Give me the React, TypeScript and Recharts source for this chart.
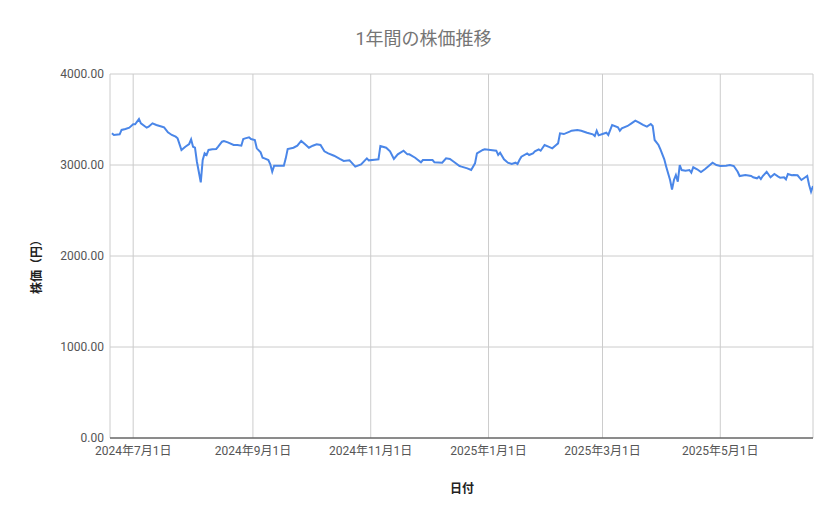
import React from 'react';
import { LineChart, Line, XAxis, YAxis, CartesianGrid } from 'recharts';

const dates = [
  '2024-06-20','2024-06-21','2024-06-24','2024-06-25','2024-06-27','2024-06-29',
  '2024-07-01','2024-07-02','2024-07-04','2024-07-05','2024-07-08','2024-07-09','2024-07-11','2024-07-13','2024-07-16','2024-07-17','2024-07-19','2024-07-21','2024-07-23','2024-07-24','2024-07-26','2024-07-28','2024-07-30','2024-07-31',
  '2024-08-01','2024-08-02','2024-08-03','2024-08-05','2024-08-06','2024-08-07','2024-08-08','2024-08-09','2024-08-11','2024-08-13','2024-08-14','2024-08-16','2024-08-17','2024-08-19','2024-08-22','2024-08-24','2024-08-26','2024-08-27','2024-08-28','2024-08-30','2024-08-31',
  '2024-09-02','2024-09-03','2024-09-05','2024-09-06','2024-09-07','2024-09-09','2024-09-10','2024-09-11','2024-09-12','2024-09-14','2024-09-17','2024-09-18','2024-09-19','2024-09-22','2024-09-24','2024-09-26','2024-09-28','2024-09-30',
  '2024-10-02','2024-10-04','2024-10-06','2024-10-08','2024-10-10','2024-10-13','2024-10-16','2024-10-18','2024-10-21','2024-10-22','2024-10-24','2024-10-27','2024-10-30','2024-10-31',
  '2024-11-03','2024-11-05','2024-11-06','2024-11-09','2024-11-11','2024-11-13','2024-11-15','2024-11-18','2024-11-20','2024-11-21','2024-11-24','2024-11-27','2024-11-28','2024-11-30',
  '2024-12-03','2024-12-04','2024-12-08','2024-12-10','2024-12-12','2024-12-14','2024-12-17','2024-12-18','2024-12-21','2024-12-23','2024-12-25','2024-12-26','2024-12-29','2024-12-30',
  '2025-01-02','2025-01-05','2025-01-06','2025-01-07','2025-01-09','2025-01-11','2025-01-13','2025-01-15','2025-01-16','2025-01-17','2025-01-18','2025-01-21','2025-01-22','2025-01-24','2025-01-25','2025-01-27','2025-01-28','2025-01-30',
  '2025-02-01','2025-02-03','2025-02-05','2025-02-06','2025-02-07','2025-02-09','2025-02-12','2025-02-13','2025-02-16','2025-02-18','2025-02-21','2025-02-24','2025-02-25','2025-02-26','2025-02-27',
  '2025-03-01','2025-03-03','2025-03-04','2025-03-06','2025-03-09','2025-03-10','2025-03-11','2025-03-14','2025-03-16','2025-03-18','2025-03-20','2025-03-22','2025-03-24','2025-03-26','2025-03-27','2025-03-28','2025-03-30','2025-03-31',
  '2025-04-02','2025-04-03','2025-04-05','2025-04-06','2025-04-07','2025-04-08','2025-04-09','2025-04-10','2025-04-11','2025-04-13','2025-04-15','2025-04-16','2025-04-17','2025-04-19','2025-04-21','2025-04-23','2025-04-25','2025-04-27','2025-04-29',
  '2025-05-01','2025-05-04','2025-05-06','2025-05-08','2025-05-10','2025-05-11','2025-05-14','2025-05-17','2025-05-18','2025-05-20','2025-05-21','2025-05-22','2025-05-23','2025-05-25','2025-05-27','2025-05-29','2025-05-31',
  '2025-06-01','2025-06-03','2025-06-04','2025-06-05','2025-06-07','2025-06-08','2025-06-10','2025-06-12','2025-06-14','2025-06-15','2025-06-16','2025-06-17','2025-06-18',
];

const prices = [
  3348,3330,3337,3385,3396,3410,3447,3447,3505,3458,
  3410,3421,3458,3440,3421,3414,3359,3330,3311,3293,
  3165,3201,3231,3282,3201,3190,3036,2810,3055,3128,
  3110,3165,3172,3176,3201,3256,3264,3249,3220,3220,
  3212,3286,3293,3304,3286,3275,3183,3139,3080,3073,
  3055,3007,2926,2993,2993,2993,3073,3176,3190,3212,
  3264,3227,3190,3212,3227,3220,3150,3128,3102,3066,
  3044,3051,3029,2982,3007,3073,3051,3058,3062,3209,
  3190,3150,3066,3117,3157,3117,3117,3080,3029,3055,
  3055,3055,3029,3025,3073,3066,3036,2989,2982,2963,
  2945,3018,3128,3165,3172,3165,3157,3110,3135,3062,
  3025,3011,3025,3011,3055,3091,3128,3110,3128,3150,
  3172,3157,3220,3201,3183,3220,3238,3348,3340,3366,
  3377,3385,3377,3355,3337,3319,3377,3326,3340,3355,
  3330,3440,3414,3377,3403,3429,3458,3487,3465,3440,
  3421,3451,3429,3275,3220,3172,3062,2982,2835,2730,
  2835,2890,2817,3000,2945,2938,2945,2916,2975,2953,
  2923,2953,2989,3025,3000,2989,2993,3000,2989,2926,
  2879,2890,2879,2865,2854,2872,2846,2879,2926,2865,
  2901,2872,2861,2865,2843,2901,2887,2890,2887,2835,
  2865,2879,2780,2707,2769,
];

const xTickDates = ['2024-07-01', '2024-09-01', '2024-11-01', '2025-01-01', '2025-03-01', '2025-05-01'];
const xDomainDates = ['2024-06-19', '2025-06-18'];
const yTicks = [0, 1000, 2000, 3000, 4000];

const title = '1年間の株価推移';
const xTitle = '日付';
const yTitle = '株価（円）';

const data = dates.map((d, i) => ({ t: Date.parse(d), price: prices[i] }));

const fmtDate = (t: number) => {
  const d = new Date(t);
  return `${d.getUTCFullYear()}年${d.getUTCMonth() + 1}月${d.getUTCDate()}日`;
};

const FONT = 'Roboto, "Noto Sans CJK JP", sans-serif';

export default function App() {
  return (
    <div style={{ position: 'relative', width: 831, height: 511, fontFamily: FONT, background: '#fff' }}>
      <div
        style={{
          position: 'absolute', left: 0, top: 16, width: 831, textAlign: 'center',
          fontSize: 18, color: '#757575', fontFamily: FONT,
        }}
      >
        {title}
      </div>
      <div
        style={{
          position: 'absolute', left: 27, top: 256, width: 0, height: 0,
        }}
      >
        <div
          style={{
            position: 'absolute', transform: 'translate(-50%, -50%) rotate(-90deg)',
            whiteSpace: 'nowrap', fontSize: 12, color: '#222', fontWeight: 'bold',
          }}
        >
          {yTitle}
        </div>
      </div>
      <div
        style={{
          position: 'absolute', left: 0, top: 471, width: 908, textAlign: 'center',
          fontSize: 12, color: '#222', fontWeight: 'bold',
        }}
      >
        {xTitle}
      </div>
      <LineChart
        width={831}
        height={511}
        data={data}
        margin={{ top: 66, right: 26, left: 0, bottom: 51 }}
      >
        <CartesianGrid stroke="#cccccc" strokeWidth={1} />
        <XAxis
          dataKey="t"
          type="number"
          scale="time"
          domain={xDomainDates.map((d) => Date.parse(d))}
          ticks={xTickDates.map((d) => Date.parse(d))}
          tickFormatter={fmtDate}
          tickLine={false}
          tickSize={0}
          tickMargin={8}
          axisLine={{ stroke: '#333333', strokeWidth: 1 }}
          tick={{ fill: '#555555', fontSize: 12, fontFamily: FONT }}
          height={30}
          allowDataOverflow
          interval={0}
        />
        <YAxis
          type="number"
          domain={[0, 4000]}
          ticks={yTicks}
          tickFormatter={(v: number) => v.toFixed(2)}
          axisLine={false}
          tickLine={false}
          tickSize={0}
          tickMargin={6}
          width={102}
          tick={{ fill: '#555555', fontSize: 12, fontFamily: FONT }}
          interval={0}
        />
        <Line
          type="linear"
          dataKey="price"
          stroke="#4a86e8"
          strokeWidth={2}
          dot={false}
          isAnimationActive={false}
        />
      </LineChart>
    </div>
  );
}
